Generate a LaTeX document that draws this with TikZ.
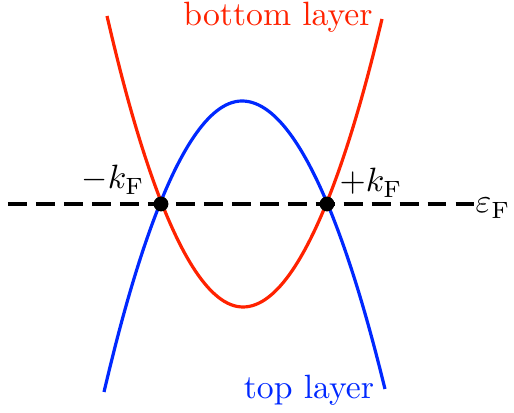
\documentclass[tikz,border=0pt]{standalone}
\definecolor{bandred}{RGB}{255,34,0}
\definecolor{bandblue}{RGB}{0,40,255}
\tikzset{
  band/.style={line width=0.95pt},
  fermi/.style={line width=1.2pt, dash pattern=on 5.6pt off 2.7pt},
  fdot/.style={circle, fill=black, inner sep=0pt, minimum size=4.4pt},
  lbl/.style={anchor=base, inner sep=0pt},
}
\begin{document}
\begin{tikzpicture}[x=0.2967pt,y=-0.2967pt]
\useasboundingbox (0,0) rectangle (514,413);
% bands
\coordinate (rs) at (107,16);
\coordinate (rb) at (243,307);
\coordinate (re) at (382,19);
\coordinate (bs) at (104,392);
\coordinate (bb) at (242,101);
\coordinate (be) at (385,389);
\draw[band, bandred] (rs) parabola bend (rb) (re);
\draw[band, bandblue] (bs) parabola bend (bb) (be);
% Fermi level
\coordinate (fl) at (8,204);
\coordinate (fr) at (474,204);
\draw[fermi] (fl) -- (fr);
% crossing points
\node[fdot] (kl) at (161,204) {};
\node[fdot] (kr) at (327,204) {};
% labels
\node[lbl] (lkl) at (113,189) {$-k_{\mathrm F}$};
\node[lbl] (lkr) at (371,192) {$+k_{\mathrm F}$};
\node[lbl] (lef) at (493,213) {$\varepsilon_{\mathrm F}$};
\node[lbl, text=bandred] (lbot) at (278,26) {bottom layer};
\node[lbl, text=bandblue] (ltop) at (309,399) {top layer};
\end{tikzpicture}
\end{document}
